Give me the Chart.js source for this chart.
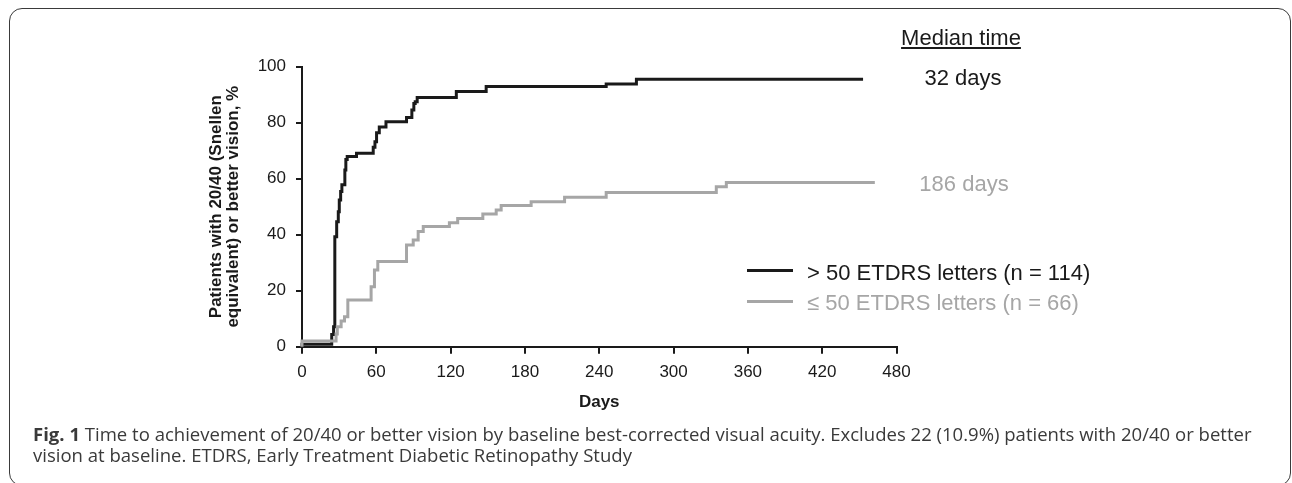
<!DOCTYPE html>
<html>
<head>
<meta charset="utf-8">
<script src="https://cdn.jsdelivr.net/npm/chart.js@4.4.1/dist/chart.umd.min.js"></script>
<style>
body { margin: 0; background: #fff; width: 1292px; height: 483px; overflow: hidden; position: relative; font-family: "Liberation Sans", Arial, sans-serif; }
#marco { position: absolute; left: 9px; top: 8px; width: 1282px; height: 478px; border: 1.5px solid #3a3a3a; border-radius: 13px; box-sizing: border-box; }
#grafica { position: absolute; left: 0; top: 0; }
.txt { position: absolute; font-size: 22px; line-height: 22px; white-space: nowrap; color: #1a1a1a; }
.centro { text-align: center; width: 200px; }
.gris { color: #a6a6a6; }
.raya { position: absolute; height: 3px; width: 46px; left: 747px; }
#pie { position: absolute; left: 33px; top: 423px; white-space: nowrap; font-family: "Open Sans", sans-serif; font-size: 18.55px; line-height: 21px; color: #3a3a3a; }
</style>
</head>
<body>
<div id="marco"></div>
<canvas id="grafica" width="1292" height="483"></canvas>

<div class="txt centro" style="left:861px; top:27px; text-decoration: underline;">Median time</div>
<div class="txt centro" style="left:863px; top:67px;">32 days</div>
<div class="txt centro gris" style="left:864px; top:173px;">186 days</div>

<div class="raya" style="top:269px; background:#1a1a1a;"></div>
<div class="txt" style="left:807px; top:262px;">&gt; 50 ETDRS letters (n = 114)</div>
<div class="raya" style="top:300px; background:#a6a6a6;"></div>
<div class="txt gris" style="left:807px; top:292px;">≤ 50 ETDRS letters (n = 66)</div>

<div id="pie"><b>Fig. 1</b> Time to achievement of 20/40 or better vision by baseline best-corrected visual acuity. Excludes 22 (10.9%) patients with 20/40 or better<br>vision at baseline. ETDRS, Early Treatment Diabetic Retinopathy Study</div>

<script>
// > 50 ETDRS letters (n = 114)
var dias_mayor = [0, 24, 25.5, 26.5, 28, 29.3, 30.1, 31.2, 32.2, 34.6, 35.4, 36.5, 44, 57.5, 58.9, 60.2, 62.4, 67.8, 84.4, 88.7, 90.3, 91.4, 93, 124.6, 148.7, 245.6, 270, 364.7, 453];
var pct_mayor = [0, 0.9, 4.4, 7.1, 39.3, 44.6, 48.2, 52.4, 55.4, 57.8, 63.1, 66.9, 67.9, 69.1, 71.2, 73.2, 76.4, 78.5, 80.3, 81.9, 84.5, 86.9, 87.5, 89.0, 91.1, 92.9, 93.8, 95.5, 95.5];

// <= 50 ETDRS letters (n = 66)
var dias_menor = [0, 27.5, 28.5, 31.6, 34.3, 37, 55.8, 58.5, 61.2, 84.4, 89.8, 93.8, 97.9, 119, 125.7, 146, 156.8, 160.8, 185, 212, 245.6, 334.5, 342.6, 392.4, 462.5];
var pct_menor = [0, 2, 4.5, 7.1, 9.2, 10.7, 16.7, 21.4, 27.4, 30.4, 36.3, 38.1, 41.1, 42.9, 44.3, 45.8, 47.4, 48.8, 50.4, 51.8, 53.4, 55.1, 57.1, 58.6, 58.6];

var ticks_x = [0, 60, 120, 180, 240, 300, 360, 420, 480];
var ticks_y = [0, 20, 40, 60, 80, 100];

var titulo_y = ["Patients with 20/40 (Snellen", "equivalent) or better vision, %"];
var titulo_x = "Days";

var negro = "#1a1a1a";
var gris = "#a6a6a6";

puntos = function (xs, ys) {
	let out = [];
	for (let i = 0; i < xs.length; i++) out.push({ x: xs[i], y: ys[i] });
	return out;
};

var ctx = document.getElementById("grafica").getContext("2d");
var chart = new Chart(ctx, {
	type: "line",
	data: {
		datasets: [
			{
				label: "≤ 50 ETDRS letters (n = 66)",
				data: puntos(dias_menor, pct_menor),
				borderColor: gris,
				borderWidth: 3,
				stepped: "after",
				pointRadius: 0,
				clip: 4,
			},
			{
				label: "> 50 ETDRS letters (n = 114)",
				data: puntos(dias_mayor, pct_mayor),
				borderColor: negro,
				borderWidth: 3,
				stepped: "after",
				pointRadius: 0,
				clip: 4,
			},
		],
	},
	options: {
		responsive: false,
		animation: false,
		layout: { padding: { top: 66.7, right: 395.5, left: 0, bottom: 0 } },
		plugins: { legend: { display: false }, tooltip: { enabled: false } },
		scales: {
			x: {
				type: "linear",
				min: 0,
				max: 480,
				afterFit: function (s) { s.height = 136.3; },
				afterBuildTicks: function (s) { s.ticks = ticks_x.map(v => ({ value: v })); },
				ticks: { font: { size: 17, family: "'Liberation Sans', Arial" }, color: negro, padding: 8, maxRotation: 0 },
				grid: { drawOnChartArea: false, tickLength: 7, color: negro, lineWidth: 2 },
				border: { color: negro, width: 2 },
				title: { display: true, text: titulo_x, color: negro, font: { size: 17, weight: "bold", family: "'Liberation Sans', Arial" }, padding: { top: 0, bottom: 70.8 } },
			},
			y: {
				min: 0,
				max: 100,
				afterFit: function (s) { s.width = 302; },
				afterBuildTicks: function (s) { s.ticks = ticks_y.map(v => ({ value: v })); },
				ticks: { font: { size: 17, family: "'Liberation Sans', Arial" }, color: negro, padding: 10 },
				grid: { drawOnChartArea: false, tickLength: 6, color: negro, lineWidth: 2 },
				border: { color: negro, width: 2 },
				title: { display: true, text: titulo_y, color: negro, font: { size: 17, weight: "bold", lineHeight: 1, family: "'Liberation Sans', Arial" }, padding: { top: 208, bottom: 0 } },
			},
		},
	},
});
</script>
</body>
</html>
